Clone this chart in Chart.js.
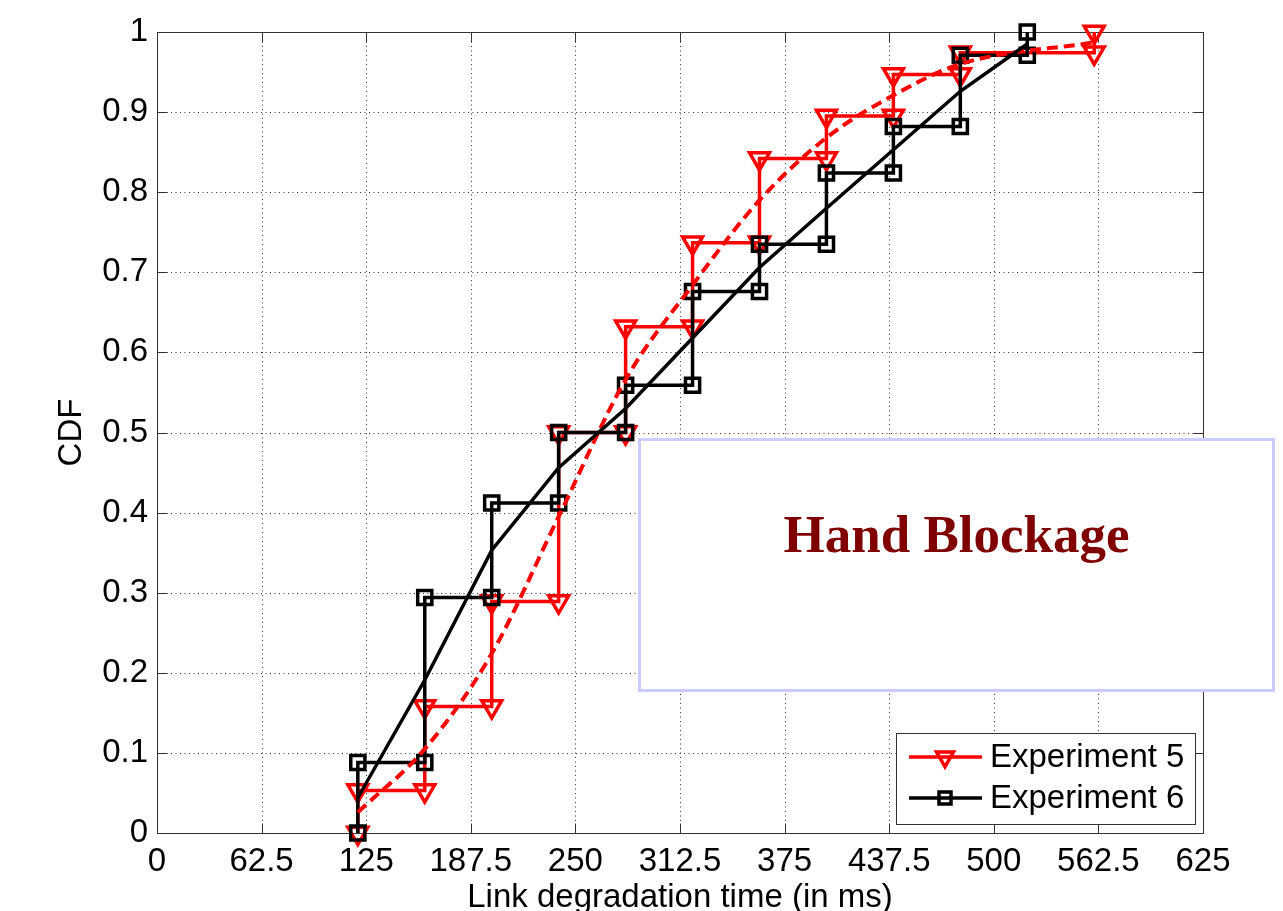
<!DOCTYPE html>
<html>
<head>
<meta charset="utf-8">
<title>Link degradation time CDF</title>
<script src="https://cdn.jsdelivr.net/npm/chart.js@4.4.1/dist/chart.umd.min.js"></script>
<style>
  html, body { margin: 0; padding: 0; background: #fff; }
  #wrap { position: relative; width: 1283px; height: 911px; }
</style>
</head>
<body>
<div id="wrap"><canvas id="cdf"></canvas></div>
<script>
// Empirical CDF steps: the times (ms) where each CDF jumps, and the level before/after each jump
const exp5Times  = [120, 160, 200, 240, 280, 320, 360, 400, 440, 480, 560];
const exp5Levels = [0, 0.053, 0.158, 0.289, 0.5, 0.632, 0.737, 0.842, 0.895, 0.947, 0.974, 1.0];
const exp6Times  = [120, 160, 200, 240, 280, 320, 360, 400, 440, 480, 520];
const exp6Levels = [0, 0.088, 0.294, 0.412, 0.5, 0.559, 0.676, 0.735, 0.824, 0.882, 0.971, 1.0];

// Fitted curves through the steps
const exp5FitTimes = [120, 160, 200, 240, 280, 320, 360, 400, 440, 480, 560];
const exp5Fit      = [0.026, 0.105, 0.224, 0.395, 0.566, 0.684, 0.79, 0.868, 0.921, 0.96, 0.987];
const exp6FitTimes = [120, 160, 200, 240, 280, 320, 360, 400, 440, 480, 520];
const exp6Fit      = [0.044, 0.191, 0.353, 0.456, 0.53, 0.618, 0.706, 0.78, 0.853, 0.926, 0.985];

// Axis ticks
const xTickValues = [0, 62.5, 125, 187.5, 250, 312.5, 375, 437.5, 500, 562.5, 625];
const xTickLabels = ['0', '62.5', '125', '187.5', '250', '312.5', '375', '437.5', '500', '562.5', '625'];
const yTickValues = [0, 0.1, 0.2, 0.3, 0.4, 0.5, 0.6, 0.7, 0.8, 0.9, 1];
const yTickLabels = ['0', '0.1', '0.2', '0.3', '0.4', '0.5', '0.6', '0.7', '0.8', '0.9', '1'];

const seriesNames = ['Experiment 5', 'Experiment 6'];
const annotationText = 'Hand Blockage';

// Turn step times and levels into the corner points of a staircase
function staircase(times, levels) {
  const pts = [];
  times.forEach((t, i) => {
    pts.push({ x: t, y: levels[i] });
    pts.push({ x: t, y: levels[i + 1] });
  });
  return pts;
}
function pairs(xs, ys) {
  return xs.map((x, i) => ({ x: x, y: ys[i] }));
}

const RED = '#ff0000';
const BLACK = '#000000';
const FONT = "'Liberation Sans', Arial, Helvetica, sans-serif";

Chart.defaults.font.family = FONT;
Chart.defaults.font.size = 33;
Chart.defaults.color = '#000';

// Grid, box and inward tick marks in the style of a boxed plot
const framePlugin = {
  id: 'frame',
  beforeDatasetsDraw(chart) {
    const { ctx, chartArea: a, scales: { x, y } } = chart;
    const L = Math.round(a.left) + 0.5, R = Math.round(a.right) + 0.5;
    const T = Math.round(a.top) + 0.5, B = Math.round(a.bottom) + 0.5;
    const seg = (x1, y1, x2, y2) => { ctx.beginPath(); ctx.moveTo(x1, y1); ctx.lineTo(x2, y2); ctx.stroke(); };
    ctx.save();
    // dotted grid
    ctx.strokeStyle = 'rgba(0,0,0,0.8)';
    ctx.lineWidth = 1;
    ctx.setLineDash([1, 3.5]);
    x.ticks.forEach(t => {
      const px = Math.round(x.getPixelForValue(t.value)) + 0.5;
      if (px > L + 1 && px < R - 1) seg(px, T, px, B);
    });
    y.ticks.forEach(t => {
      const py = Math.round(y.getPixelForValue(t.value)) + 0.5;
      if (py > T + 1 && py < B - 1) seg(L, py, R, py);
    });
    ctx.setLineDash([]);
    // tick marks pointing inward on all four sides
    ctx.strokeStyle = '#333';
    const tl = 10;
    x.ticks.forEach(t => {
      const px = Math.round(x.getPixelForValue(t.value)) + 0.5;
      seg(px, B, px, B - tl);
      seg(px, T, px, T + tl);
    });
    y.ticks.forEach(t => {
      const py = Math.round(y.getPixelForValue(t.value)) + 0.5;
      seg(L, py, L + tl, py);
      seg(R, py, R - tl, py);
    });
    // axes box
    ctx.strokeStyle = '#333';
    ctx.strokeRect(L, T, R - L, B - T);
    ctx.restore();
  }
};

function drawMarker(ctx, style, cx, cy, r) {
  ctx.beginPath();
  if (style === 'triangle') {
    // downward-pointing triangle
    ctx.moveTo(cx - r * 0.866, cy - r * 0.5);
    ctx.lineTo(cx + r * 0.866, cy - r * 0.5);
    ctx.lineTo(cx, cy + r);
    ctx.closePath();
  } else {
    const s = r * Math.SQRT1_2;
    ctx.rect(cx - s, cy - s, 2 * s, 2 * s);
  }
  ctx.stroke();
}

// Boxed legend inside the lower-right corner of the plot
const legendPlugin = {
  id: 'insetLegend',
  afterDatasetsDraw(chart) {
    const { ctx, chartArea: a } = chart;
    const items = chart.data.datasets
      .filter(d => d.pointRadius > 0)
      .sort((p, q) => seriesNames.indexOf(p.label) - seriesNames.indexOf(q.label));
    const boxW = 299, rowH = 41, boxH = 9 + rowH * items.length;
    const bx = a.right - 8 - boxW, by = a.bottom - 9 - boxH;
    ctx.save();
    ctx.fillStyle = '#fff';
    ctx.fillRect(bx, by, boxW, boxH);
    ctx.strokeStyle = '#333';
    ctx.lineWidth = 1;
    ctx.strokeRect(Math.round(bx) + 0.5, Math.round(by) + 0.5, boxW, boxH);
    items.forEach((d, i) => {
      const cy = by + 24 + i * rowH;
      ctx.strokeStyle = d.borderColor;
      ctx.lineWidth = d.borderWidth;
      ctx.beginPath();
      ctx.moveTo(bx + 13, cy);
      ctx.lineTo(bx + 86, cy);
      ctx.stroke();
      ctx.lineWidth = d.pointBorderWidth;
      drawMarker(ctx, d.pointStyle, bx + 49, cy, d.pointRadius * 0.85);
      ctx.fillStyle = '#000';
      ctx.font = '33px ' + FONT;
      ctx.textAlign = 'left';
      ctx.textBaseline = 'middle';
      ctx.fillText(d.label, bx + 94, cy + 1);
    });
    ctx.restore();
  }
};

// Text box annotation laid over the right side of the figure
const annotationPlugin = {
  id: 'textBox',
  afterDraw(chart) {
    const { ctx } = chart;
    const x0 = 638, y0 = 438, w = 637, h = 254;
    ctx.save();
    ctx.fillStyle = '#fff';
    ctx.fillRect(x0, y0, w, h);
    ctx.strokeStyle = '#ccccff';
    ctx.lineWidth = 3;
    ctx.strokeRect(x0 + 1.5, y0 + 1.5, w - 3, h - 3);
    ctx.fillStyle = '#800000';
    ctx.font = "bold 53px 'Liberation Serif', 'Times New Roman', Times, serif";
    ctx.textAlign = 'center';
    ctx.textBaseline = 'alphabetic';
    ctx.fillText(annotationText, x0 + w / 2, y0 + 114);
    ctx.restore();
  }
};

new Chart(document.getElementById('cdf'), {
  type: 'line',
  data: {
    datasets: [
      {
        label: '',
        data: pairs(exp6FitTimes, exp6Fit),
        borderColor: BLACK, borderWidth: 3.5, pointRadius: 0, tension: 0,
        clip: false, order: 0
      },
      {
        label: '',
        data: pairs(exp5FitTimes, exp5Fit),
        borderColor: RED, borderWidth: 4, borderDash: [11, 6], pointRadius: 0,
        cubicInterpolationMode: 'monotone', clip: false, order: 1
      },
      {
        label: seriesNames[1],
        data: staircase(exp6Times, exp6Levels),
        borderColor: BLACK, borderWidth: 3.5, tension: 0,
        pointStyle: 'rect', pointRadius: 10, pointBorderWidth: 3.5,
        pointBorderColor: BLACK, pointBackgroundColor: 'rgba(0,0,0,0)',
        clip: false, order: 2
      },
      {
        label: seriesNames[0],
        data: staircase(exp5Times, exp5Levels),
        borderColor: RED, borderWidth: 3.5, tension: 0,
        pointStyle: 'triangle', pointRotation: 180, pointRadius: 11.5, pointBorderWidth: 3.5,
        pointBorderColor: RED, pointBackgroundColor: 'rgba(0,0,0,0)',
        clip: false, order: 3
      }
    ]
  },
  options: {
    responsive: true,
    maintainAspectRatio: false,
    animation: false,
    events: [],
    layout: { padding: { left: 0, right: 80, top: 32, bottom: 0 } },
    plugins: { legend: { display: false }, tooltip: { enabled: false } },
    scales: {
      x: {
        type: 'linear', min: 0, max: 625,
        afterBuildTicks: s => { s.ticks = xTickValues.map(v => ({ value: v })); },
        afterFit: s => { s.height = 78; },
        grid: { display: false, drawTicks: false },
        border: { display: false },
        ticks: { padding: 9, maxRotation: 0, autoSkip: false, callback: (v, i) => xTickLabels[i] },
        title: { display: true, text: 'Link degradation time (in ms)', font: { size: 33, lineHeight: 0.82 }, padding: { top: 0, bottom: 0 } }
      },
      y: {
        type: 'linear', min: 0, max: 1,
        afterBuildTicks: s => { s.ticks = yTickValues.map(v => ({ value: v })); },
        afterFit: s => { s.width = 157; },
        grid: { display: false, drawTicks: false },
        border: { display: false },
        ticks: { padding: 9, autoSkip: false, callback: (v, i) => yTickLabels[i] },
        title: { display: true, text: 'CDF', font: { size: 33, lineHeight: 1 }, padding: { top: 55, bottom: 0 } }
      }
    }
  },
  plugins: [framePlugin, legendPlugin, annotationPlugin]
});
</script>
</body>
</html>
